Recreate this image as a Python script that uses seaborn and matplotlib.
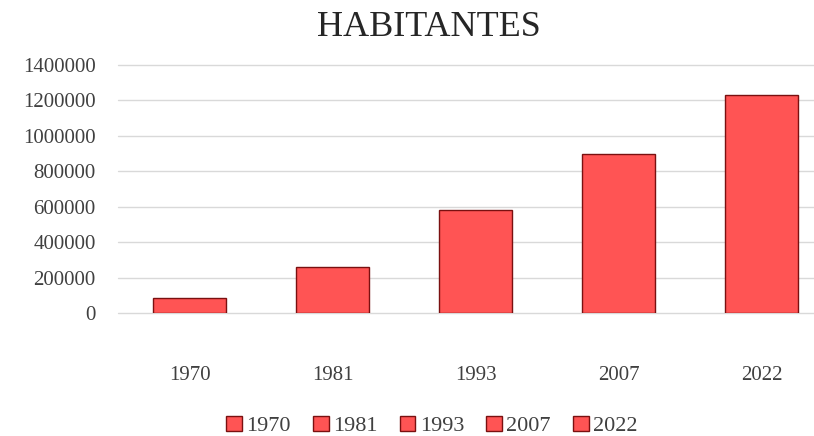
import numpy as np
import pandas as pd
import seaborn as sns
import matplotlib.pyplot as plt

# Dati
anni = ["1970", "1981", "1993", "2007", "2022"]
habitantes = [84000, 258000, 582000, 899000, 1228000]

df = pd.DataFrame({"anno": anni, "habitantes": habitantes})

sns.set_theme(style="white")
plt.rcParams['font.family'] = ['Liberation Serif', 'DejaVu Serif']

fig = plt.figure(figsize=(8.14, 4.36), dpi=100)
ax = fig.add_axes([118 / 814, 1 - 313 / 436, (833 - 118) / 814, (313 - 65) / 436])

colore = "#ff5454"
sns.barplot(data=df, x="anno", y="habitantes", hue="anno", dodge=False,
            palette=[colore] * len(anni), width=0.51, edgecolor="#7a1010",
            linewidth=1.0, saturation=1, ax=ax, legend=True)

ax.set_ylim(0, 1400000)
ax.set_xlim(-0.5, 4.5)
ax.set_yticks(np.arange(0, 1400001, 200000))
ax.set_yticklabels([str(v) for v in range(0, 1400001, 200000)])
ax.grid(axis="y", color="#d9d9d9", linewidth=1.0)
for g in ax.get_ygridlines():
    g.set_clip_on(False)
ax.set_axisbelow(True)
for s in ax.spines.values():
    s.set_visible(False)
ax.tick_params(axis="y", length=0, pad=16, labelsize=15, labelcolor="#404040")
ax.tick_params(axis="x", length=0, pad=38, labelsize=15, labelcolor="#404040")
ax.set_xlabel("")
ax.set_ylabel("")

fig.suptitle("HABITANTES", x=429 / 814, y=1 - 27 / 436, va="center",
             fontsize=26, color="#262626")

ax.legend_.remove()
handles, labels = ax.get_legend_handles_labels()
fig.legend(handles, labels, loc="center", bbox_to_anchor=(432 / 814, 1 - 426 / 436),
           ncol=5, frameon=False, fontsize=16, handlelength=0.7, handleheight=0.7,
           handletextpad=0.2, columnspacing=1.0, labelcolor="#404040")

fig.savefig("out.png", dpi=100)
